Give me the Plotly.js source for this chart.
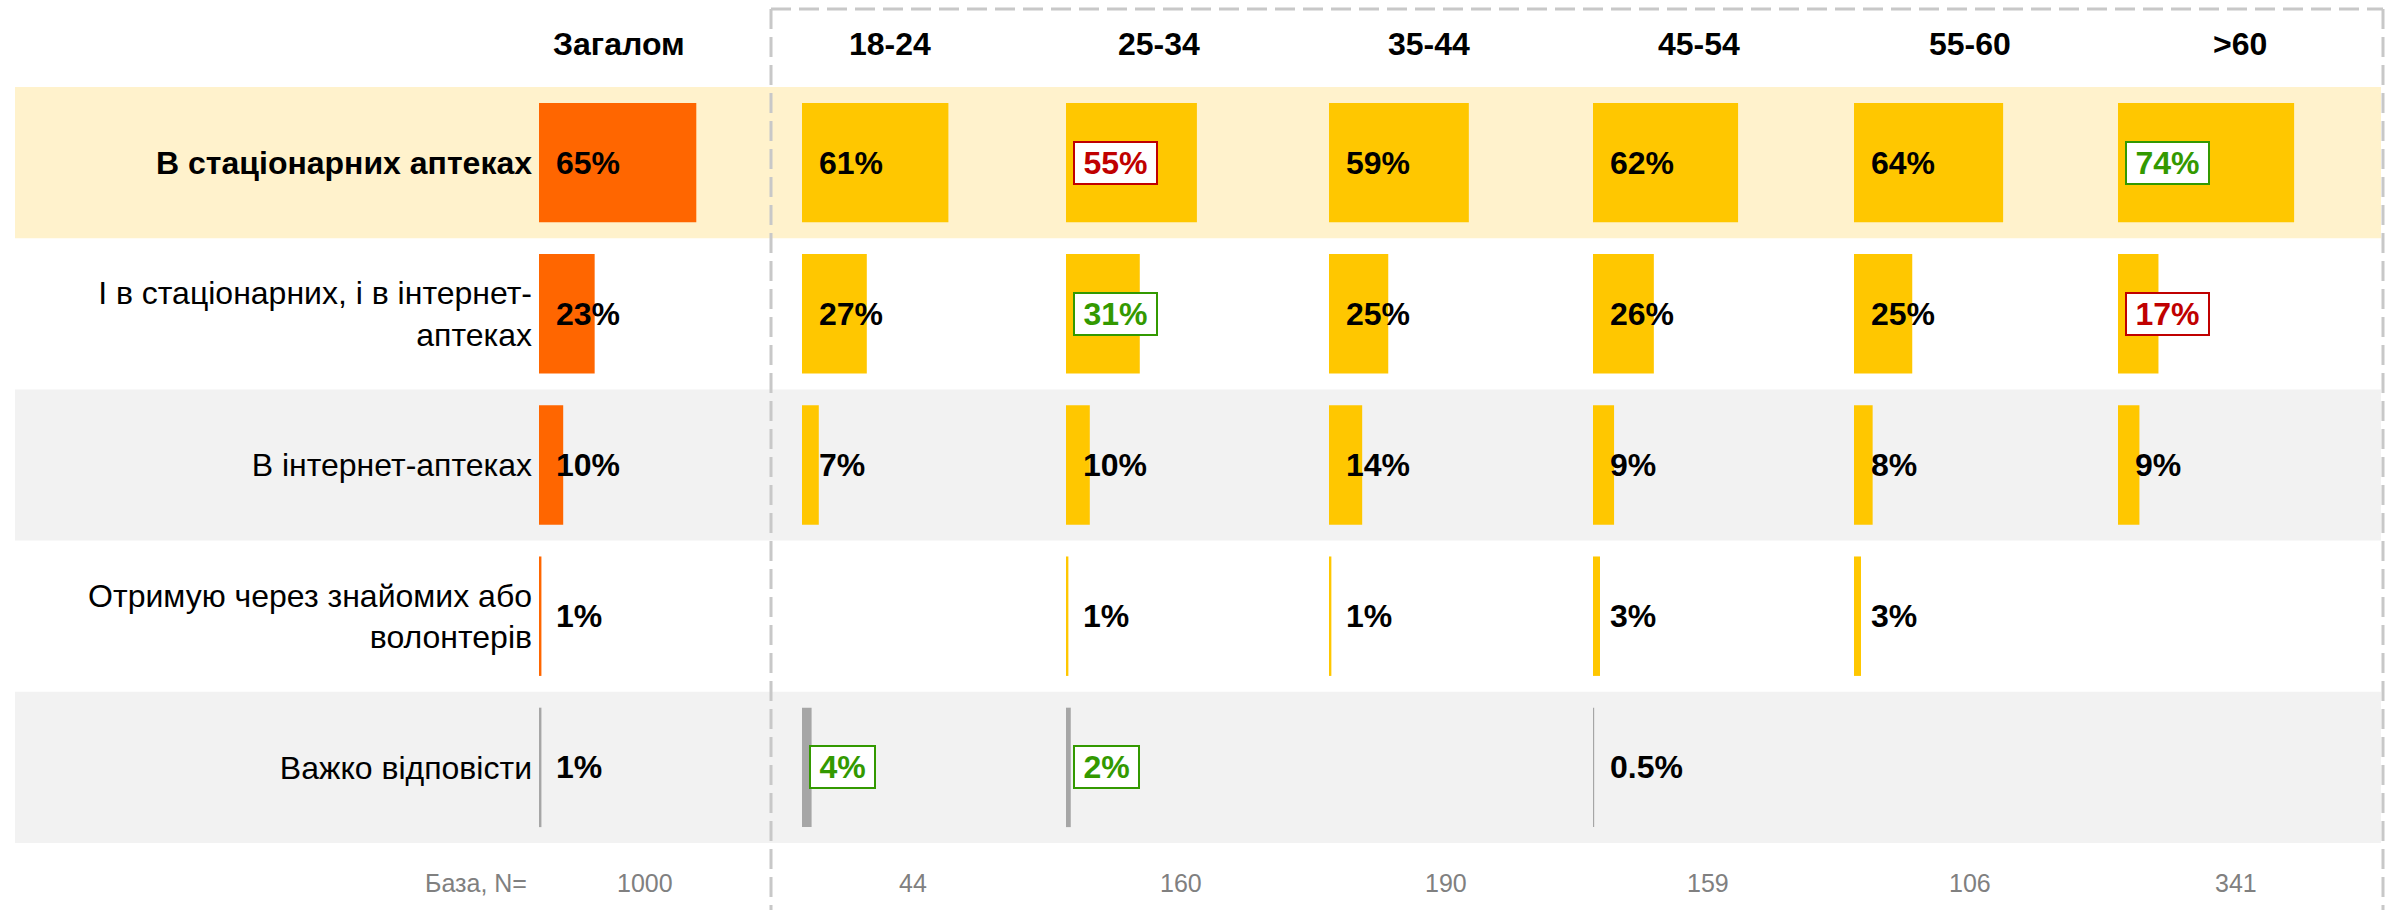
<!DOCTYPE html>
<html><head><meta charset="utf-8">
<script src="https://cdn.plot.ly/plotly-3.0.1.min.js"></script>
<style>html,body{margin:0;padding:0;background:#fff;overflow:hidden}</style>
</head><body><div id="chart" style="width:2395px;height:910px"></div>
<script>
// ---------- DATA ----------
const categories = [
  'В стаціонарних аптеках',
  'І в стаціонарних, і в інтернет-аптеках',
  'В інтернет-аптеках',
  'Отримую через знайомих або волонтерів',
  'Важко відповісти'
];
const categoryLabels = [
  '<b>В стаціонарних аптеках</b>',
  'І в стаціонарних, і в інтернет-<br>аптеках',
  'В інтернет-аптеках',
  'Отримую через знайомих або<br>волонтерів',
  'Важко відповісти'
];
const groups = ['Загалом', '18-24', '25-34', '35-44', '45-54', '55-60', '>60'];
const baseLabel = 'База, N=';
const baseN = [1000, 44, 160, 190, 159, 106, 341];

const valTotal = [65, 23, 10, 1, 1];
const val18_24 = [61, 27, 7, null, 4];
const val25_34 = [55, 31, 10, 1, 2];
const val35_44 = [59, 25, 14, 1, null];
const val45_54 = [62, 26, 9, 3, 0.5];
const val55_60 = [64, 25, 8, 3, null];
const val60p   = [74, 17, 9, null, null];

// significance markers: 'up' = significantly higher, 'down' = significantly lower
const sigTotal = ['', '', '', '', ''];
const sig18_24 = ['', '', '', '', 'up'];
const sig25_34 = ['down', 'up', '', '', 'up'];
const sig35_44 = ['', '', '', '', ''];
const sig45_54 = ['', '', '', '', ''];
const sig55_60 = ['', '', '', '', ''];
const sig60p   = ['up', 'down', '', '', ''];

// ---------- LAYOUT HELPERS ----------
const W = 2395, H = 910;
const px = v => v / W;
const py = v => 1 - v / H;
const FONT = 'Liberation Sans, Arial, sans-serif';

const series = [valTotal, val18_24, val25_34, val35_44, val45_54, val55_60, val60p];
const sigs = [sigTotal, sig18_24, sig25_34, sig35_44, sig45_54, sig55_60, sig60p];
const panelStart = [539, 802, 1066, 1329, 1593, 1854, 2118];
const pxPerPct = [2.42, 2.40, 2.38, 2.37, 2.34, 2.33, 2.38];
const headerX = [619, 890, 1159, 1429, 1699, 1970, 2240];
const baseX = [645, 913, 1181, 1446, 1708, 1970, 2236];
const mainColor = ['#FF6600', '#FFC700', '#FFC700', '#FFC700', '#FFC700', '#FFC700', '#FFC700'];
const grayColor = '#A6A6A6';
const GREEN = '#339900', RED = '#C00000';
const rowTop = 87, rowBottom = 843;
const FS = 32;

const axName = i => (i === 0 ? 'x' : 'x' + (i + 1));
const axKey = i => (i === 0 ? 'xaxis' : 'xaxis' + (i + 1));

const traces = series.map((vals, i) => ({
  type: 'bar',
  orientation: 'h',
  x: vals,
  y: categories,
  xaxis: axName(i),
  yaxis: 'y',
  marker: { color: vals.map((v, j) => (j === categories.length - 1 ? grayColor : mainColor[i])) },
  hoverinfo: 'none',
  showlegend: false
}));

const layout = {
  width: W, height: H,
  margin: { l: 0, r: 0, t: 0, b: 0 },
  paper_bgcolor: '#ffffff',
  plot_bgcolor: 'rgba(0,0,0,0)',
  bargap: 0.21,
  showlegend: false,
  font: { family: FONT, color: '#000' },
  yaxis: {
    domain: [py(rowBottom), py(rowTop)],
    type: 'category',
    range: [categories.length - 0.5, -0.5],
    tickvals: categories,
    ticktext: categoryLabels,
    showgrid: false, zeroline: false, showline: false,
    ticks: '',
    ticklabelstandoff: 6,
    tickfont: { family: FONT, size: FS, color: '#000' },
    anchor: 'x',
    fixedrange: true
  },
  shapes: [],
  annotations: []
};

series.forEach((vals, i) => {
  layout[axKey(i)] = {
    domain: [px(panelStart[i]), px(panelStart[i] + 100 * pxPerPct[i])],
    range: [0, 100],
    visible: false,
    showgrid: false, zeroline: false,
    anchor: 'y',
    fixedrange: true
  };
});

// row bands
const bandColors = ['#FFF2CC', null, '#F2F2F2', null, '#F2F2F2'];
bandColors.forEach((c, j) => {
  if (!c) return;
  layout.shapes.push({
    type: 'rect', layer: 'below',
    xref: 'paper', yref: 'y',
    x0: px(15), x1: px(2381), y0: j - 0.5, y1: j + 0.5,
    fillcolor: c, line: { width: 0 }
  });
});

// dashed frame around age groups
const dashLine = { color: '#C8C8C8', width: 3, dash: '20px,8px' };
layout.shapes.push(
  { type: 'line', xref: 'paper', yref: 'paper', x0: px(771), x1: px(771), y0: py(9), y1: py(915), line: dashLine },
  { type: 'line', xref: 'paper', yref: 'paper', x0: px(771), x1: px(2383), y0: py(9), y1: py(9), line: dashLine },
  { type: 'line', xref: 'paper', yref: 'paper', x0: px(2383), x1: px(2383), y0: py(9), y1: py(915), line: dashLine }
);

// value labels
series.forEach((vals, i) => {
  vals.forEach((v, j) => {
    if (v === null || v === undefined) return;
    const label = v + '%';
    const s = sigs[i][j];
    if (s) {
      const col = s === 'up' ? GREEN : RED;
      layout.annotations.push({
        xref: axName(i), yref: 'y', x: 0, y: categories[j],
        text: '<b>\u2009' + label + '\u2009</b>',
        xanchor: 'left', yanchor: 'middle', xshift: 7,
        showarrow: false,
        font: { family: FONT, size: FS, color: col },
        bgcolor: '#ffffff', bordercolor: col, borderwidth: 2, borderpad: 2
      });
    } else {
      layout.annotations.push({
        xref: axName(i), yref: 'y', x: 0, y: categories[j],
        text: '<b>' + label + '</b>',
        xanchor: 'left', yanchor: 'middle', xshift: 15,
        showarrow: false,
        font: { family: FONT, size: FS, color: '#000' }
      });
    }
  });
});

// column headers
groups.forEach((g, i) => {
  layout.annotations.push({
    xref: 'paper', yref: 'paper', x: px(headerX[i]), y: py(44),
    text: '<b>' + g + '</b>', xanchor: 'center', yanchor: 'middle',
    showarrow: false, font: { family: FONT, size: FS, color: '#000' }
  });
});

// base row
layout.annotations.push({
  xref: 'paper', yref: 'paper', x: px(529), y: py(883),
  text: baseLabel, xanchor: 'right', yanchor: 'middle',
  showarrow: false, font: { family: FONT, size: 25, color: '#808080' }
});
baseN.forEach((n, i) => {
  layout.annotations.push({
    xref: 'paper', yref: 'paper', x: px(baseX[i]), y: py(883),
    text: String(n), xanchor: 'center', yanchor: 'middle',
    showarrow: false, font: { family: FONT, size: 25, color: '#808080' }
  });
});

Plotly.newPlot('chart', traces, layout, { staticPlot: true, displayModeBar: false });
</script>
</body></html>
